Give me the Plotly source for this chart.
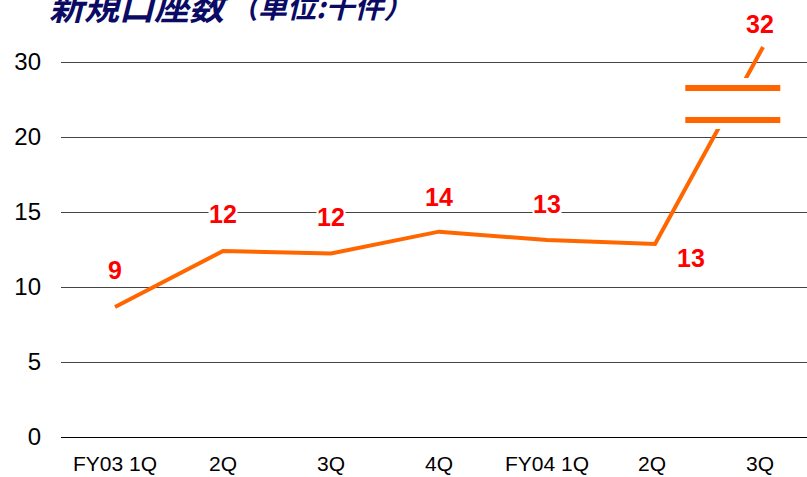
import plotly.graph_objects as go

categories = ["FY03 1Q", "2Q", "3Q", "4Q", "FY04 1Q", "2Q ", "3Q "]
values = [8.67, 12.4, 12.24, 13.69, 13.13, 12.87, 32.0]
value_labels = ["9", "12", "12", "14", "13", "13", "32"]
tick_values = [0, 5, 10, 15, 20, 30]
title_main = "新規口座数"
title_unit = "（単位:千件）"

BREAK_AT = 20.0
BREAK_SCALE = 0.5


def to_axis(v):
    return v if v <= BREAK_AT else BREAK_AT + (v - BREAK_AT) * BREAK_SCALE


xs = list(range(len(categories)))
ys = [to_axis(v) for v in values]

fig = go.Figure()
fig.add_trace(go.Scatter(
    x=xs, y=ys, mode="lines",
    line=dict(color="#FF6600", width=4),
    hoverinfo="skip", showlegend=False, cliponaxis=False,
))

# data labels
offsets = [(0, 37), (0, 37), (0, 36), (0, 35), (0, 36), (36, -14), (-3, 23)]
for x, y, t, (dx, dy) in zip(xs, ys, value_labels, offsets):
    fig.add_annotation(
        x=x, y=y, xref="x", yref="y", text="<b>%s</b>" % t, showarrow=False,
        xshift=dx, yshift=dy, bgcolor="white", borderpad=0,
        font=dict(family="Liberation Sans, Arial", size=25, color="#FF0000"),
    )

# axis break marks
gap_lo, gap_hi = 20.53, 23.93
fig.add_shape(type="rect", xref="x", yref="y", x0=5.25, x1=6.6, y0=gap_lo, y1=gap_hi,
              fillcolor="white", line=dict(width=0), layer="above")
for yb in (21.13, 23.27):
    fig.add_shape(type="line", xref="x", yref="y", x0=5.28, x1=6.16, y0=yb, y1=yb,
                  line=dict(color="#FF6600", width=6), layer="above")

# title
fig.add_annotation(
    xref="paper", yref="paper", x=(47 - 61) / 746, y=1.0, yshift=13,
    xanchor="left", yanchor="middle", showarrow=False,
    text="<b><i>%s</i></b>" % title_main,
    font=dict(family="Noto Sans CJK JP", size=35, color="#0B0B66"),
)
fig.add_annotation(
    xref="paper", yref="paper", x=(227 - 61) / 746, y=1.0, yshift=12,
    xanchor="left", yanchor="middle", showarrow=False,
    text="<b><i>%s</i></b>" % title_unit,
    font=dict(family="Noto Sans CJK JP", size=29, color="#0B0B66"),
)

fig.update_layout(
    width=807, height=477,
    margin=dict(l=61, r=0, t=17, b=40),
    plot_bgcolor="white", paper_bgcolor="white",
    font=dict(family="Liberation Sans, Arial", color="#000000"),
    xaxis=dict(
        range=[-0.5, 6.407], tickmode="array", tickvals=xs, ticktext=categories,
        showgrid=False, zeroline=False, showline=False, ticks="",
        tickfont=dict(size=21), ticklabelstandoff=12, automargin=False,
    ),
    yaxis=dict(
        range=[0, 28], tickmode="array",
        tickvals=[to_axis(v) for v in tick_values],
        ticktext=[str(v) for v in tick_values],
        showgrid=True, gridcolor="#444444", gridwidth=1,
        zeroline=True, zerolinecolor="#000000", zerolinewidth=1,
        showline=False, ticks="", tickfont=dict(size=24), ticklabelstandoff=19,
        automargin=False,
    ),
)

fig.write_html(
    "out.html",
    config={"displayModeBar": False, "staticPlot": True},
    post_script="document.body.style.margin='0';document.body.style.overflow='hidden';",
)
